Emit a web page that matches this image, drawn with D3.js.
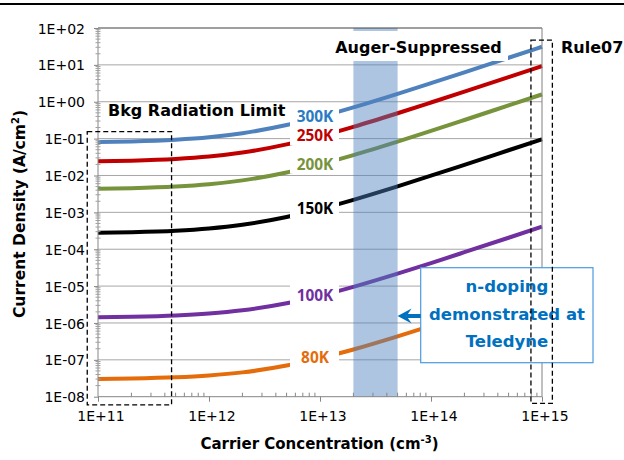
<!DOCTYPE html>
<html>
<head>
<meta charset="utf-8">
<script src="https://cdn.jsdelivr.net/npm/d3@7"></script>
<style>
  body { margin: 0; background: #fff; }
  svg { display: block; }
</style>
</head>
<body>
<svg id="chart" width="624" height="460"></svg>
<script>
// Carrier concentration samples (cm^-3)
const carrierConc = [1e11, 2e11, 5e11, 1e12, 2e12, 5e12, 1e13, 2e13, 5e13, 1e14, 2e14, 5e14, 1e15];

// Dark current density (A/cm^2) per temperature
const j300K = [0.081, 0.084, 0.0935, 0.109, 0.140, 0.233, 0.388, 0.70, 1.63, 3.18, 6.28, 15.6, 31];
const j250K = [0.0242, 0.0252, 0.0280, 0.0326, 0.0419, 0.0698, 0.116, 0.209, 0.488, 0.953, 1.88, 4.67, 9.3];
const j200K = [0.00436, 0.00452, 0.00499, 0.00578, 0.00736, 0.0121, 0.0200, 0.0358, 0.0832, 0.162, 0.320, 0.794, 1.58];
const j150K = [2.8e-4, 2.9e-4, 3.18e-4, 3.66e-4, 4.62e-4, 7.5e-4, 1.23e-3, 2.19e-3, 5.07e-3, 9.87e-3, 1.95e-2, 4.83e-2, 9.6e-2];
const j100K = [1.43e-6, 1.47e-6, 1.59e-6, 1.80e-6, 2.21e-6, 3.43e-6, 5.47e-6, 9.55e-6, 2.18e-5, 4.22e-5, 8.30e-5, 2.05e-4, 4.09e-4];
const j80K  = [3.04e-8, 3.12e-8, 3.36e-8, 3.77e-8, 4.57e-8, 7.0e-8, 1.11e-7, 1.91e-7, 4.33e-7, 8.4e-7, 1.64e-6, 4.07e-6, 8.1e-6];

const seriesNames = ["300K", "250K", "200K", "150K", "100K", "80K"];

// Axis ticks
const yTickValues = [1e-8, 1e-7, 1e-6, 1e-5, 1e-4, 1e-3, 1e-2, 1e-1, 1e0, 1e1, 1e2];
const yTickLabels = ["1E-08", "1E-07", "1E-06", "1E-05", "1E-04", "1E-03", "1E-02", "1E-01", "1E+00", "1E+01", "1E+02"];
const xTickValues = [1e11, 1e12, 1e13, 1e14, 1e15];
const xTickLabels = ["1E+11", "1E+12", "1E+13", "1E+14", "1E+15"];

// Auger-suppressed doping window (cm^-3)
const augerWindow = [2e13, 5e13];
// Background-radiation-limited region and Rule07 reference region
const bkgRegion = { n: [8e10, 4.6e11], j: [6e-9, 1.55e-1] };
const rule07Region = { n: [7.95e14, 1.24e15], j: [6.6e-9, 4.7e1] };

const colors = {
  "300K": { line: "#4f81bd", text: "#2a7bc4" },
  "250K": { line: "#c00000", text: "#c00000" },
  "200K": { line: "#77933c", text: "#77933c" },
  "150K": { line: "#000000", text: "#000000" },
  "100K": { line: "#7030a0", text: "#7030a0" },
  "80K":  { line: "#e46c0a", text: "#e46c0a" }
};

const seriesValues = [j300K, j250K, j200K, j150K, j100K, j80K];
const series = seriesNames.map((name, i) => ({
  name,
  points: carrierConc.map((n, k) => [n, seriesValues[i][k]])
}));

const svg = d3.select("#chart");
const plot = { left: 98, right: 542, top: 28, bottom: 396.7 };

const x = d3.scaleLog().domain([1e11, 1e15]).range([plot.left, plot.right]);
const y = d3.scaleLog().domain([1e-8, 1e2]).range([plot.bottom, plot.top]);

const FONT = "'DejaVu Sans', sans-serif";

// top rule
svg.append("rect").attr("x", 0).attr("y", 3).attr("width", 624).attr("height", 2).attr("fill", "#000");

// horizontal gridlines
svg.append("g").selectAll("line").data(yTickValues.slice(1, -1)).join("line")
  .attr("x1", plot.left).attr("x2", plot.right)
  .attr("y1", d => y(d)).attr("y2", d => y(d))
  .attr("stroke", "#a6a6a6").attr("stroke-width", 1);

// curves
const line = d3.line().x(d => x(d[0])).y(d => y(d[1])).curve(d3.curveMonotoneX);
svg.append("g").selectAll("path").data(series).join("path")
  .attr("d", d => line(d.points))
  .attr("fill", "none")
  .attr("stroke", d => colors[d.name].line)
  .attr("stroke-width", 4);

// Auger-suppressed band
svg.append("rect")
  .attr("x", x(augerWindow[0])).attr("width", x(augerWindow[1]) - x(augerWindow[0]))
  .attr("y", plot.top).attr("height", plot.bottom - plot.top)
  .attr("fill", "#4f81bd").attr("fill-opacity", 0.46);

// plot frame (top/right)
svg.append("line").attr("x1", plot.left).attr("x2", plot.right).attr("y1", plot.top).attr("y2", plot.top)
  .attr("stroke", "#404040").attr("stroke-width", 1);
svg.append("line").attr("x1", plot.right).attr("x2", plot.right).attr("y1", plot.top).attr("y2", plot.bottom)
  .attr("stroke", "#808080").attr("stroke-width", 1);

// Y axis
const yAxis = d3.axisLeft(y).tickValues(yTickValues)
  .tickFormat((d, i) => yTickLabels[i]).tickSize(4).tickPadding(9);
const gy = svg.append("g").attr("transform", `translate(${plot.left},0)`).call(yAxis);
gy.select(".domain").attr("stroke", "#868686").attr("d", `M0,${plot.top}V${plot.bottom}`);
gy.selectAll(".tick line").attr("stroke", "#868686");
gy.selectAll(".tick text").attr("font-family", FONT).attr("font-size", 14).attr("fill", "#000")
  .attr("dy", "0.36em");

const yMinor = [];
for (let e = -8; e < 2; e++) for (let k = 2; k <= 9; k++) yMinor.push(k * Math.pow(10, e));
svg.append("g").selectAll("line").data(yMinor).join("line")
  .attr("x1", plot.left - 2.5).attr("x2", plot.left + 2.5)
  .attr("y1", d => y(d)).attr("y2", d => y(d))
  .attr("stroke", "#a0a0a0").attr("stroke-width", 1);

// X axis
const xAxis = d3.axisBottom(x).tickValues(xTickValues)
  .tickFormat((d, i) => xTickLabels[i]).tickSize(5).tickPadding(9);
const gx = svg.append("g").attr("transform", `translate(0,${plot.bottom})`).call(xAxis);
gx.select(".domain").attr("stroke", "#868686").attr("d", `M${plot.left},0H${plot.right}`);
gx.selectAll(".tick line").attr("stroke", "#868686");
gx.selectAll(".tick text").attr("font-family", FONT).attr("font-size", 14).attr("fill", "#000")
  .attr("dx", 2.5);

const xMinor = [];
for (let e = 11; e < 15; e++) for (let k = 2; k <= 9; k++) xMinor.push(k * Math.pow(10, e));
svg.append("g").selectAll("line").data(xMinor).join("line")
  .attr("x1", d => x(d)).attr("x2", d => x(d))
  .attr("y1", plot.bottom - 4).attr("y2", plot.bottom)
  .attr("stroke", "#868686").attr("stroke-width", 1);

// Temperature labels sitting on their curves
const labelX = 315;
const labelN = x.invert(labelX);
function valueAt(points, n) {
  const ln = Math.log10(n);
  for (let i = 0; i < points.length - 1; i++) {
    const a = Math.log10(points[i][0]), b = Math.log10(points[i + 1][0]);
    if (ln >= a && ln <= b) {
      const t = (ln - a) / (b - a);
      return Math.pow(10, Math.log10(points[i][1]) * (1 - t) + Math.log10(points[i + 1][1]) * t);
    }
  }
  return points[points.length - 1][1];
}
const lab = svg.append("g");
series.forEach(s => {
  const base = y(valueAt(s.points, labelN)) + 4;
  lab.append("rect").attr("x", 290).attr("width", 49)
    .attr("y", base - 16).attr("height", 20).attr("fill", "#fff");
  lab.append("text").attr("x", labelX).attr("y", base)
    .attr("text-anchor", "middle")
    .attr("font-family", "'Open Sans', sans-serif").attr("font-weight", 700).attr("font-size", 15.4)
    .attr("fill", colors[s.name].text).text(s.name);
});

// Region annotations
svg.append("rect").attr("x", 329).attr("y", 31).attr("width", 179).attr("height", 30).attr("fill", "#fff");
svg.append("text").attr("x", 418.5).attr("y", 53).attr("text-anchor", "middle")
  .attr("font-family", FONT).attr("font-weight", 700).attr("font-size", 16)
  .text("Auger-Suppressed");
svg.append("text").attr("x", 108).attr("y", 115.7)
  .attr("font-family", FONT).attr("font-weight", 700).attr("font-size", 16)
  .text("Bkg Radiation Limit");
svg.append("text").attr("x", 561).attr("y", 53)
  .attr("font-family", FONT).attr("font-weight", 700).attr("font-size", 16)
  .text("Rule07");

// Teledyne callout
const callout = svg.append("g");
callout.append("rect").attr("x", 420.7).attr("y", 267.7).attr("width", 172.3).attr("height", 95)
  .attr("fill", "#fff").attr("stroke", "#4a9be0").attr("stroke-width", 1.2);
["n-doping", "demonstrated at", "Teledyne"].forEach((t, i) => {
  callout.append("text").attr("x", 507).attr("y", 291.7 + i * 27.8).attr("text-anchor", "middle")
    .attr("font-family", FONT).attr("font-weight", 700).attr("font-size", 16.5)
    .attr("fill", "#0070c0").text(t);
});
const arrowTip = x(augerWindow[1]);
callout.append("line").attr("x1", 420.7).attr("x2", arrowTip + 9).attr("y1", 316).attr("y2", 316)
  .attr("stroke", "#0070c0").attr("stroke-width", 4);
callout.append("path")
  .attr("d", `M${arrowTip},316 L${arrowTip + 14},308.5 L${arrowTip + 9},316 L${arrowTip + 14},323.5 Z`)
  .attr("fill", "#0070c0");

// dashed region outlines
[bkgRegion, rule07Region].forEach(r => {
  svg.append("rect")
    .attr("x", x(r.n[0])).attr("width", x(r.n[1]) - x(r.n[0]))
    .attr("y", y(r.j[1])).attr("height", y(r.j[0]) - y(r.j[1]))
    .attr("fill", "none").attr("stroke", "#000").attr("stroke-width", 1.3)
    .attr("stroke-dasharray", "5,3");
});

// axis titles
const yt = svg.append("text").attr("transform", "translate(25,214) rotate(-90)")
  .attr("text-anchor", "middle").attr("font-family", FONT).attr("font-weight", 700).attr("font-size", 15.5);
yt.append("tspan").text("Current Density (A/cm");
yt.append("tspan").attr("font-size", 10).attr("dy", -6).text("2");
yt.append("tspan").attr("dy", 6).text(")");

const xt = svg.append("text").attr("x", 319.5).attr("y", 449)
  .attr("text-anchor", "middle").attr("font-family", FONT).attr("font-weight", 700).attr("font-size", 15);
xt.append("tspan").text("Carrier Concentration (cm");
xt.append("tspan").attr("font-size", 10).attr("dy", -6).text("-3");
xt.append("tspan").attr("dy", 6).text(")");
</script>
</body>
</html>
